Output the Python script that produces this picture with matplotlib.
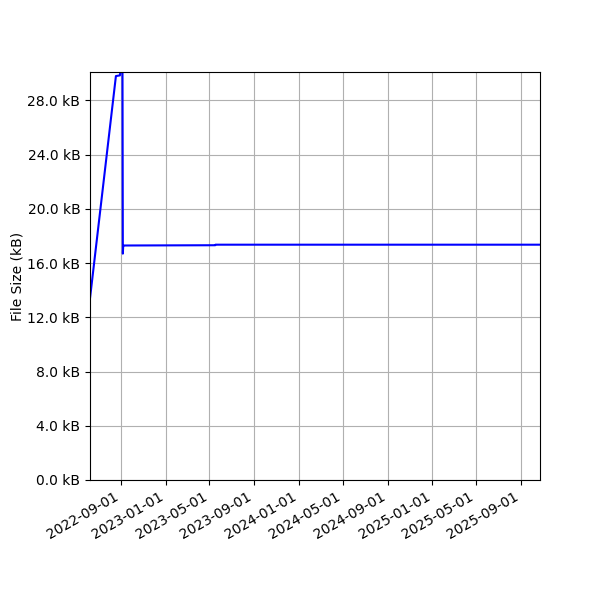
import pandas as pd
import matplotlib
matplotlib.use("Agg")
import matplotlib.pyplot as plt
import matplotlib.dates as mdates
from matplotlib.ticker import FuncFormatter, MultipleLocator

# commit dates and file size in kB
dates = ["2022-06-08", "2022-08-18", "2022-08-29", "2022-09-01", "2022-09-05",
         "2022-09-06", "2022-09-07", "2022-09-08", "2023-05-17", "2023-05-18",
         "2025-10-23"]
sizes = [13.4, 29.8, 29.85, 30.6, 30.6, 16.7, 17.3, 17.3, 17.32, 17.36, 17.36]

df = pd.DataFrame({"date": pd.to_datetime(dates), "size": sizes})

fig, ax = plt.subplots(figsize=(6, 6), dpi=100)
ax.plot(df["date"], df["size"], color="blue")

ax.set_xlim(df["date"].min(), df["date"].max())
ax.set_ylim(0, 30.1)
ax.yaxis.set_major_locator(MultipleLocator(4))
ax.yaxis.set_major_formatter(FuncFormatter(lambda v, p: "{:.1f} kB".format(v)))
ax.set_ylabel("File Size (kB)", labelpad=2)

ax.xaxis.set_major_locator(mdates.MonthLocator(bymonth=[1, 5, 9]))
ax.xaxis.set_major_formatter(mdates.DateFormatter("%Y-%m-%d"))
ax.grid(True)
fig.autofmt_xdate()
fig.subplots_adjust(left=0.15, right=0.9, top=0.88, bottom=0.2)

fig.savefig("out.png")
